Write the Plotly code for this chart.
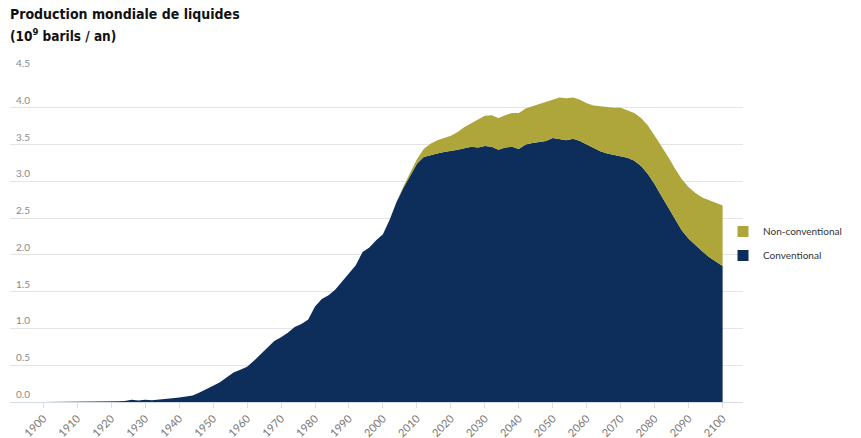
import plotly.graph_objects as go

years = list(range(1900, 2101, 2))

total = [
    0.00, 0.00, 0.00, 0.00, 0.00, 0.00, 0.00, 0.00, 0.00, 0.005,
    0.005, 0.01, 0.015, 0.03, 0.02, 0.03, 0.025, 0.03, 0.04, 0.05,
    0.06, 0.07, 0.09, 0.13, 0.17, 0.22, 0.27, 0.33, 0.40, 0.44,
    0.48, 0.56, 0.65, 0.75, 0.83, 0.88, 0.94, 1.02, 1.06, 1.12,
    1.30, 1.40, 1.45, 1.53, 1.64, 1.74, 1.86, 2.04, 2.10, 2.20,
    2.28, 2.48, 2.72, 2.93, 3.12, 3.30, 3.44, 3.51, 3.56, 3.59,
    3.62, 3.67, 3.74, 3.79, 3.84, 3.89, 3.90, 3.86, 3.90, 3.93,
    3.93, 3.99, 4.02, 4.05, 4.09, 4.12, 4.14, 4.13, 4.14, 4.11,
    4.06, 4.03, 4.02, 4.00, 4.00, 4.00, 3.97, 3.93, 3.86, 3.76,
    3.62, 3.48, 3.33, 3.17, 3.03, 2.92, 2.84, 2.78, 2.74, 2.70,
    2.67,
]

conventional = [
    0.00, 0.00, 0.00, 0.00, 0.00, 0.00, 0.00, 0.00, 0.00, 0.005,
    0.005, 0.01, 0.015, 0.03, 0.02, 0.03, 0.025, 0.03, 0.04, 0.05,
    0.06, 0.07, 0.09, 0.13, 0.17, 0.22, 0.27, 0.33, 0.40, 0.44,
    0.48, 0.56, 0.65, 0.75, 0.83, 0.88, 0.94, 1.02, 1.06, 1.12,
    1.30, 1.40, 1.45, 1.53, 1.64, 1.74, 1.86, 2.04, 2.10, 2.20,
    2.28, 2.48, 2.72, 2.91, 3.08, 3.24, 3.33, 3.36, 3.38, 3.40,
    3.41, 3.43, 3.45, 3.47, 3.46, 3.48, 3.47, 3.43, 3.46, 3.47,
    3.44, 3.50, 3.52, 3.53, 3.55, 3.59, 3.58, 3.56, 3.58, 3.55,
    3.50, 3.45, 3.41, 3.38, 3.36, 3.35, 3.32, 3.28, 3.21, 3.10,
    2.96, 2.80, 2.64, 2.48, 2.33, 2.22, 2.13, 2.05, 1.97, 1.91,
    1.85,
]

x_ticks = list(range(1900, 2101, 10))
y_ticks = [0.0, 0.5, 1.0, 1.5, 2.0, 2.5, 3.0, 3.5, 4.0, 4.5]
y_tick_labels = ["0.0", "0.5", "1.0", "1.5", "2.0", "2.5", "3.0", "3.5", "4.0", "4.5"]

series_names = ["Non-conventional", "Conventional"]
navy = "#0d2e5a"
olive = "#aea63a"

fig = go.Figure()

fig.add_trace(go.Scatter(
    x=years, y=conventional, mode="lines", line=dict(width=0, color=navy),
    fill="tozeroy", fillcolor=navy, showlegend=False, hoverinfo="skip",
))
fig.add_trace(go.Scatter(
    x=years, y=total, mode="lines", line=dict(width=0, color=olive),
    fill="tonexty", fillcolor=olive, showlegend=False, hoverinfo="skip",
))

# legend entries (square swatches)
for name, col in zip(series_names, [olive, navy]):
    fig.add_trace(go.Scatter(
        x=[None], y=[None], mode="markers", name=name, legendgroup=name,
        marker=dict(symbol="square", size=11, color=col),
    ))

L, R, T, B = 10, 118, 71, 36
W, H = 861, 438
pw = W - L - R
ph = H - T - B

title_font = "Liberation Sans Narrow, DejaVu Sans Condensed, sans-serif"
annotations = [
    dict(text="<b>Production mondiale de liquides</b>", x=(8 - L) / pw, y=1 + (T - 14) / ph,
         xref="paper", yref="paper", xanchor="left", yanchor="middle", showarrow=False,
         font=dict(family=title_font, size=14, color="#111")),
    dict(text="<b>(10<sup>9</sup> barils / an)</b>", x=(8 - L) / pw, y=1 + (T - 35) / ph,
         xref="paper", yref="paper", xanchor="left", yanchor="middle", showarrow=False,
         font=dict(family=title_font, size=13.5, color="#111")),
]
for v, lab in zip(y_ticks, y_tick_labels):
    annotations.append(dict(
        text=lab, x=(14 - L) / pw, y=v, xref="paper", yref="y",
        xanchor="left", yanchor="bottom", showarrow=False, yshift=0,
        font=dict(family="Lato, sans-serif", size=10, color="#888"),
    ))

fig.update_layout(
    width=W, height=H,
    margin=dict(l=L, r=R, t=T, b=B, autoexpand=False),
    paper_bgcolor="white", plot_bgcolor="white",
    showlegend=True,
    legend=dict(
        x=(723 - L) / pw, xanchor="left",
        y=1 - (217 - T) / ph, yanchor="top",
        font=dict(family="Lato, sans-serif", size=10, color="#333"),
        tracegroupgap=5, bgcolor="rgba(0,0,0,0)",
    ),
    annotations=annotations,
    xaxis=dict(
        range=[1890.2, 2106.0], tickvals=x_ticks, ticktext=[str(t) for t in x_ticks],
        tickangle=-45, ticks="outside", ticklen=5, tickcolor="#dcdcdc",
        tickfont=dict(family="Lato, sans-serif", size=11, color="#777"),
        showgrid=False, zeroline=False, showline=False,
    ),
    yaxis=dict(
        range=[0, 4.5], tickvals=y_ticks, showticklabels=False,
        showgrid=True, gridcolor="#e4e4e4", gridwidth=1,
        zeroline=True, zerolinecolor="#d5dbe3", zerolinewidth=1, showline=False,
    ),
)

fig.write_html("out.html", config={"displayModeBar": False},
               post_script="document.body.style.margin='0px';")
